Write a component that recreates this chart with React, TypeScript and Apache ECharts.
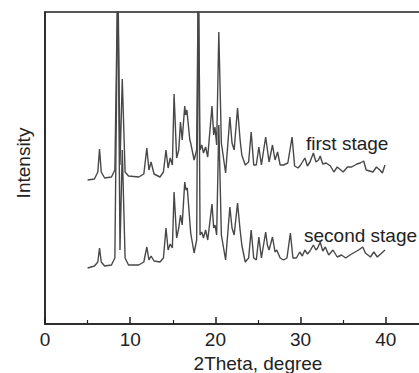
import React, { useEffect, useRef } from "react";
import * as echarts from "echarts";

// 2Theta (degree) and intensity (a.u., already vertically offset as plotted)
const firstTheta = [
  5.0, 5.8, 6.2, 6.4, 6.6, 7.0, 7.8, 8.2, 8.55, 8.8, 9.07, 9.4, 9.8, 11.0, 11.6, 11.95, 12.2, 12.45, 12.8,
  13.5, 13.9, 14.2, 14.45, 14.7, 14.95, 15.15, 15.45, 15.7, 15.9, 16.1, 16.4, 16.5, 16.65, 17.0, 17.1, 17.5,
  17.8, 18.0, 18.2, 18.4, 18.6, 18.85, 19.1, 19.6, 19.8, 19.95, 20.15, 20.4, 20.7, 21.2, 21.7, 21.95, 22.2,
  22.6, 22.9, 23.1, 23.5, 23.9, 24.2, 24.5, 24.8, 25.1, 25.4, 25.9, 26.3, 26.7, 27.0, 27.3, 27.6, 28.0, 28.5,
  29.0, 29.3, 29.7, 30.0, 30.5, 30.8, 31.1, 31.5, 31.8, 32.1, 32.3, 32.6, 33.0, 33.5, 33.9, 34.3, 35.0, 35.5,
  36.0, 36.6, 37.0, 37.4, 37.7, 38.5, 38.9, 39.3, 39.6, 39.9,
];
const firstIntensity = [
  144, 145, 152, 175, 152, 146, 147, 154, 354, 159, 245, 152, 148, 147, 150, 176, 154, 162, 150,
  147, 152, 174, 156, 166, 159, 230, 166, 174, 202, 184, 218, 209, 214, 184, 181, 164,
  174, 354, 174, 179, 171, 177, 167, 218, 189, 197, 179, 292, 181, 151, 207, 181, 174,
  216, 184, 169, 159, 162, 192, 159, 159, 177, 159, 187, 162, 179, 164, 172, 159, 159, 161,
  187, 158, 156, 159, 166, 158, 162, 171, 162, 164, 168, 160, 161, 158, 152, 157, 152, 157,
  157, 160, 161, 163, 154, 152, 157, 154, 151, 159,
];

const secondTheta = [
  5.0, 5.8, 6.2, 6.4, 6.6, 7.0, 7.8, 8.2, 8.55, 8.8, 9.07, 9.4, 9.8, 11.0, 11.6, 11.95, 12.2, 12.45, 12.8,
  13.5, 13.9, 14.2, 14.45, 14.7, 14.95, 15.15, 15.45, 15.7, 15.9, 16.1, 16.4, 16.55, 16.7, 17.1, 17.5, 17.8,
  18.0, 18.2, 18.4, 18.6, 18.85, 19.1, 19.6, 19.8, 19.95, 20.15, 20.4, 20.7, 21.2, 21.7, 21.95, 22.2, 22.6,
  22.9, 23.1, 23.5, 23.9, 24.2, 24.5, 24.8, 25.1, 25.4, 25.9, 26.1, 26.3, 26.7, 27.0, 27.2, 27.6, 28.0, 28.4,
  28.8, 29.1, 29.5, 29.9, 30.2, 30.5, 30.8, 31.1, 31.5, 31.8, 32.0, 32.3, 32.6, 32.9, 33.3, 33.8, 34.3, 34.8,
  35.3, 35.8, 36.4, 36.8, 37.3, 37.6, 38.2, 38.6, 39.0, 39.4, 39.9,
];
const secondIntensity = [
  56, 58, 62, 76, 62, 58, 59, 66, 354, 74, 174, 66, 59, 59, 62, 77, 64, 68, 63,
  62, 66, 96, 74, 80, 76, 132, 86, 96, 109, 99, 142, 134, 136, 91, 71, 84,
  354, 89, 92, 86, 94, 84, 120, 96, 99, 89, 199, 89, 64, 117, 96, 89, 121,
  94, 79, 62, 66, 94, 66, 64, 87, 66, 92, 79, 74, 87, 72, 74, 66, 64, 66,
  91, 66, 66, 72, 68, 74, 70, 73, 79, 74, 76, 82, 73, 77, 69, 74, 67, 69,
  66, 69, 72, 74, 77, 71, 67, 72, 67, 70, 74,
];

const xTicks = [0, 10, 20, 30, 40];
const seriesNames = ["first stage", "second stage"];

const pair = (xs: number[], ys: number[]) => xs.map((x, i) => [x, ys[i]]);

export default function App() {
  const ref = useRef<HTMLDivElement>(null);
  useEffect(() => {
    if (!ref.current) return;
    const chart = echarts.init(ref.current, undefined, { renderer: "svg" });
    const font = "Liberation Sans, Arial, sans-serif";
    const ink = "#222";
    const trace = "#484848";
    chart.setOption({
      animation: false,
      backgroundColor: "#fff",
      grid: {
        left: 45,
        top: 12,
        right: -52,
        bottom: 49,
        outerBoundsMode: "none",
        containLabel: false,
        show: true,
        borderColor: ink,
        borderWidth: 1.5,
        backgroundColor: "transparent",
      },
      xAxis: {
        type: "value",
        min: 0,
        max: 50,
        interval: 10,
        name: "2Theta, degree",
        nameLocation: "middle",
        nameGap: 26,
        nameTextStyle: { fontFamily: font, fontSize: 19, color: ink },
        axisLine: { show: true, lineStyle: { color: ink, width: 1.5 } },
        axisTick: { show: true, inside: true, length: 7, lineStyle: { color: ink, width: 1.5 } },
        minorTick: { show: true, splitNumber: 2, length: 4, lineStyle: { color: ink, width: 1.2 } },
        splitLine: { show: false },
        axisLabel: {
          margin: 6,
          fontFamily: font,
          fontSize: 19,
          color: ink,
          formatter: (v: number) => (xTicks.includes(v) ? String(v) : ""),
        },
      },
      yAxis: {
        type: "value",
        min: 0,
        max: 312,
        name: "Intensity",
        nameLocation: "middle",
        nameGap: 12,
        nameTextStyle: { fontFamily: font, fontSize: 19, color: ink, padding: [0, 0, 0, 10] },
        axisLine: { show: true, lineStyle: { color: ink, width: 1.5 } },
        axisTick: { show: false },
        axisLabel: { show: false },
        splitLine: { show: false },
      },
      series: [
        {
          name: seriesNames[0],
          type: "line",
          data: pair(firstTheta, firstIntensity),
          showSymbol: false,
          clip: true,
          lineStyle: { color: trace, width: 1.4 },
        },
        {
          name: seriesNames[1],
          type: "line",
          data: pair(secondTheta, secondIntensity),
          showSymbol: false,
          clip: true,
          lineStyle: { color: trace, width: 1.4 },
        },
      ],
      graphic: [
        {
          type: "text",
          x: 306,
          y: 143,
          style: { text: seriesNames[0], font: `19px ${font}`, fill: ink, verticalAlign: "middle" },
        },
        {
          type: "text",
          x: 304,
          y: 235,
          style: { text: seriesNames[1], font: `19px ${font}`, fill: ink, verticalAlign: "middle" },
        },
      ],
    });
    return () => chart.dispose();
  }, []);
  return (
    <div
      ref={ref}
      style={{ position: "fixed", left: 0, top: 0, width: 419, height: 373, background: "#fff" }}
    />
  );
}
